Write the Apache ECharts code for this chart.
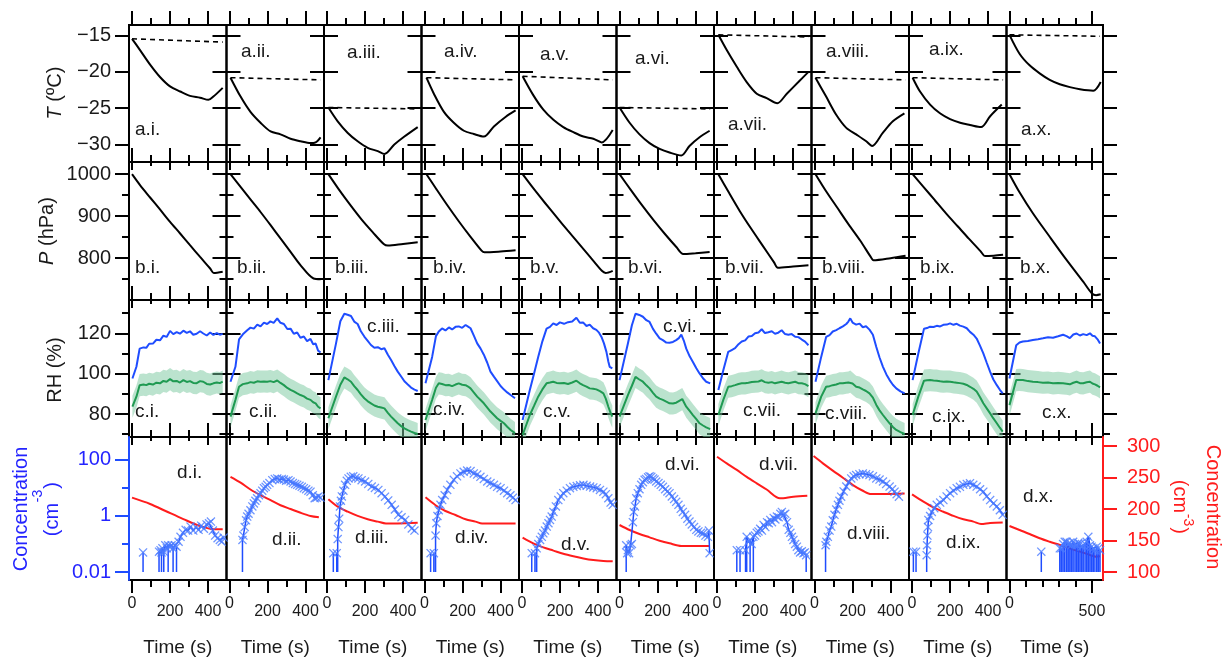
<!DOCTYPE html>
<html>
<head>
<meta charset="utf-8">
<script src="https://cdn.jsdelivr.net/npm/echarts@6/dist/echarts.min.js"></script>
<style>
html, body { margin: 0; padding: 0; background: #fff; }
#chart { width: 1225px; height: 658px; }
</style>
</head>
<body>
<div id="chart"></div>
<script>
const FONT = '"Liberation Sans", Arial, sans-serif';
const numerals = ['i', 'ii', 'iii', 'iv', 'v', 'vi', 'vii', 'viii', 'ix', 'x'];

// ticks
const xMajor = [0, 200, 400], xMinor = [100, 300];
const xMajorLast = [0, 500], xMinorLast = [100, 200, 300, 400];
const tTicks = [-30, -25, -20, -15];
const pTicks = [800, 900, 1000], pMinor = [750, 850, 950];
const rhTicks = [80, 100, 120], rhMinor = [70, 90, 110, 130];
const logTicks = [-2, 0, 2], logMinor = [-1, 1];
const logLabels = { '-2': '0.01', '0': '1', '2': '100' };
const redTicks = [100, 150, 200, 250, 300];

// a: temperature (solid) and start temperature (dashed), [s, degC]
const tempSolid = [
  [[0,-15.45],[42,-17.0],[95,-19.0],[147,-20.7],[200,-22.0],[253,-22.7],[305,-23.3],[358,-23.55],[402,-23.85],[428,-23.4],[477,-22.2]],
  [[5,-20.8],[58,-23.4],[110,-25.5],[163,-27.0],[216,-28.2],[268,-28.6],[321,-29.2],[374,-29.55],[426,-29.8],[453,-29.7],[479,-29.0]],
  [[7,-24.9],[56,-26.8],[109,-28.4],[161,-29.55],[214,-30.45],[267,-30.9],[302,-31.3],[354,-30.0],[407,-28.9],[477,-27.6]],
  [[10,-20.8],[49,-23.0],[102,-25.5],[154,-27.0],[207,-28.1],[259,-28.55],[312,-28.9],[365,-27.5],[426,-26.2],[479,-25.3]],
  [[3,-20.6],[59,-23.2],[112,-25.2],[165,-26.6],[217,-27.6],[270,-28.3],[323,-28.9],[375,-29.2],[419,-29.7],[477,-28.0]],
  [[0,-24.9],[53,-27.0],[105,-28.6],[158,-29.8],[211,-30.6],[263,-31.1],[325,-31.5],[368,-30.2],[421,-29.0],[474,-28.1]],
  [[7,-14.9],[51,-17.0],[104,-19.3],[156,-21.4],[209,-23.0],[261,-23.6],[317,-24.3],[367,-23.0],[428,-21.4],[481,-20.0]],
  [[5,-20.8],[61,-23.4],[114,-25.9],[167,-27.7],[219,-28.6],[272,-29.55],[303,-30.2],[359,-28.4],[412,-26.8],[473,-25.7]],
  [[3,-20.8],[42,-22.7],[95,-24.5],[147,-25.7],[200,-26.5],[253,-27.0],[305,-27.3],[363,-27.6],[411,-26.1],[472,-24.5]],
  [[0,-14.9],[61,-17.5],[122,-19.1],[183,-20.2],[244,-21.1],[305,-21.7],[366,-22.1],[427,-22.4],[508,-22.6],[553,-21.4]]
];
const tempDashed = [
  [[0,-15.45],[477,-15.9]], [[5,-20.8],[479,-21.1]], [[7,-24.9],[477,-25.1]], [[10,-20.8],[479,-21.1]],
  [[3,-20.6],[477,-21.1]], [[0,-24.9],[477,-25.1]], [[7,-14.9],[481,-15.2]], [[5,-20.8],[479,-21.1]],
  [[3,-20.8],[479,-21.1]], [[0,-14.9],[549,-15.1]]
];

// b: pressure [s, hPa]
const pressure = [
  [[0,1000],[42,974],[95,944.5],[147,916],[200,886.5],[253,858.8],[305,831],[358,803],[411,775.5],[430,765],[477,768]],
  [[5,1000],[58,970],[110,940],[163,910],[216,878.6],[268,847],[321,815],[374,783],[442,751.7],[479,750]],
  [[7,1000],[60,965],[120,928],[180,893],[240,862],[300,833],[320,830],[400,834],[477,838]],
  [[10,1000],[60,966],[120,926],[180,888],[240,852],[300,818],[315,814],[400,816],[479,819]],
  [[3,1000],[60,966],[120,932],[180,899],[240,866],[300,834],[360,802],[420,770],[440,765],[477,770]],
  [[0,1000],[60,962],[120,925],[180,890],[240,857],[300,826],[335,810],[400,812],[474,815]],
  [[7,1000],[60,958],[120,912],[180,870],[240,830],[300,790],[320,777],[400,780],[481,783]],
  [[5,1000],[60,960],[120,920],[180,880],[240,842],[300,800],[310,795],[400,800],[479,806]],
  [[3,1000],[60,970],[120,938],[180,906],[240,876],[300,846],[360,817],[385,805],[430,806],[479,808]],
  [[0,1000],[61,957],[142,907],[244,851],[346,796],[447,744],[500,716],[525,712],[553,714]]
];

// c: relative humidity [s, %], blue trace and green trace with its band
const rhBlue = [
  [[2,97.6],[23,103.4],[40,112.4],[60,113],[75,112.8],[90,114.8],[110,114.9],[128,116.8],[147,116.5],[165,118.8],[182,118.2],[200,121.2],[217,119.6],[235,120.6],[252,119.8],[270,121.3],[288,120.2],[305,121],[322,119.3],[340,119.8],[358,121],[375,119.9],[393,118.9],[411,120.4],[428,119.2],[446,120.1],[462,119.3],[477,119.7]],
  [[5,96],[31,103.4],[50,117],[70,119.5],[93,121.5],[110,122.8],[128,122.3],[146,124.3],[163,123.4],[181,125.3],[198,124.6],[215,125.9],[232,125.2],[251,127.4],[268,125.2],[286,124.6],[304,122.1],[321,122.3],[338,119.8],[356,120.4],[373,117.8],[391,118.4],[408,116.1],[426,117.2],[440,114.6],[453,114.9],[466,111.4],[479,110.5]],
  [[7,96.8],[47,114.9],[70,126],[91,129.7],[108,129.2],[126,128.6],[143,125.8],[161,124.6],[178,121],[196,118.4],[213,116.4],[231,114.2],[249,112.8],[267,113.1],[285,112.1],[302,112.6],[320,109.4],[337,106.8],[355,103.7],[372,101],[390,98.6],[407,96.2],[425,94.6],[442,93.1],[460,92.1],[477,91.4]],
  [[5,95.2],[40,108.3],[60,118.6],[75,120.9],[92,122.4],[110,121.4],[128,122.9],[145,121.9],[163,123.2],[180,123.4],[198,122.7],[216,124.1],[229,123.3],[242,122.5],[260,118.7],[277,115],[295,112.4],[312,109.4],[330,105.4],[347,101],[365,98.5],[382,96.3],[400,93.9],[418,92.1],[435,90.7],[453,89.4],[476,87.8]],
  [[3,77],[41,91.9],[63,100],[85,108.3],[107,116],[129,122.3],[147,123.2],[164,124.9],[182,124.1],[199,125.4],[221,124.7],[242,125.5],[264,125.8],[286,127.7],[304,125.2],[321,125.4],[339,123.6],[356,124.3],[374,122.5],[391,121.7],[405,120.3],[418,118.2],[431,115],[444,110.8],[454,106],[461,103.4],[475,102.6]],
  [[0,96.8],[44,114.9],[65,124],[84,129.7],[104,129.1],[123,128.2],[141,126.5],[158,125.6],[176,122.2],[193,119.8],[211,117.5],[228,116.6],[246,115.4],[263,115.3],[281,115.7],[298,116.6],[312,117.6],[325,119.3],[338,116.4],[351,112.4],[369,108.6],[386,105.8],[404,102.7],[421,100.1],[439,97.7],[456,96],[477,95.2]],
  [[7,91.9],[33,101.7],[59,110.8],[77,111.7],[95,112.6],[113,114.6],[130,115.9],[148,116.5],[165,118.4],[183,118.6],[200,120],[218,120.4],[235,122],[252,120.1],[270,120.5],[288,121],[305,119.8],[322,120.3],[340,121.5],[358,119.6],[375,119.3],[393,119.6],[411,118.3],[428,118.1],[446,116.9],[463,115.9],[481,114.1]],
  [[5,96],[35,108.3],[61,118.2],[79,119.1],[96,120.9],[114,121.6],[131,122.5],[149,123.4],[167,124.6],[178,125.8],[188,127.4],[200,125.3],[219,124.3],[237,124.8],[254,123],[271,123.5],[289,121.8],[307,119.3],[325,113.2],[342,108],[360,103.4],[378,99.6],[395,96.8],[412,94.5],[430,92.7],[452,91.2],[474,90.2]],
  [[3,96.8],[33,110],[63,122.3],[79,122.6],[95,123.3],[113,123.1],[130,123.7],[148,123.4],[165,124.2],[183,124.3],[200,124.9],[218,124.2],[235,124.7],[252,123.8],[270,123.3],[288,122.5],[305,120.7],[323,119.3],[340,117.4],[358,113.8],[375,110],[393,105.4],[411,100.9],[428,97.1],[446,94.3],[462,92],[477,90.2]],
  [[0,97.6],[41,114.1],[61,115.4],[81,115.9],[112,116.2],[142,116.7],[173,117.1],[203,117.5],[234,118],[264,117.8],[295,118.5],[325,119.3],[346,118.6],[366,117.6],[387,119.4],[407,119.9],[427,118.9],[447,119.6],[468,119.1],[488,120],[503,118.8],[518,118.5],[534,117],[549,114.9]]
];
const rhGreen = [
  [[2,83.6],[23,88.6],[40,94.3],[60,94.6],[75,94.3],[90,95],[110,94.6],[128,95.5],[147,95.2],[165,96.4],[182,96],[200,97.3],[217,96.2],[235,96.4],[252,95.6],[270,96.8],[288,95.9],[305,96.3],[322,95.4],[340,95.3],[358,96.3],[375,96],[393,94.9],[411,94.6],[428,95.2],[446,95.6],[462,95.3],[477,96]],
  [[5,78.7],[31,87],[50,93.5],[70,94.8],[93,95.2],[110,95.8],[128,95.5],[146,96.2],[163,96],[181,96.1],[198,96],[215,96.3],[232,95.8],[251,96.6],[268,95.4],[286,94.3],[304,92.9],[321,92],[338,91.2],[356,90.2],[373,89.4],[391,88.7],[408,87.6],[426,87],[440,85.8],[453,85.3],[466,83.6],[479,82.8]],
  [[7,77.9],[47,88.6],[70,94.5],[91,98.1],[108,97.2],[126,96],[143,93.8],[161,91.9],[178,89.7],[196,87.8],[213,86.4],[231,85.3],[249,84.2],[267,83.6],[285,83.2],[302,82.8],[320,80.6],[337,78.7],[355,77],[372,75.4],[390,74],[407,72.9],[425,72],[442,71.3],[460,70.6],[477,70.1]],
  [[5,77],[40,87],[60,93],[75,95.2],[92,94.9],[110,94.3],[128,94.4],[145,93.8],[163,94.6],[180,95.2],[198,94.5],[216,94.3],[229,93.6],[242,92.7],[260,90.6],[277,88.6],[295,86.9],[312,85.3],[330,83.2],[347,81.2],[365,79.5],[382,77.9],[400,76.6],[418,75.4],[435,73.7],[453,72.1],[476,70.5]],
  [[3,69.6],[41,79.5],[63,84],[85,88.6],[107,92.2],[129,95.2],[147,95.6],[164,96],[182,95.4],[199,95.2],[221,95.4],[242,94.9],[264,95.6],[286,96.5],[304,95.2],[321,94.3],[339,93.6],[356,92.7],[374,92.5],[391,92.2],[410,91.3],[428,90.2],[441,87.5],[454,83.6],[465,80.8],[475,78.7]],
  [[0,78.7],[44,89.4],[65,94],[84,98.4],[104,97.1],[123,96],[141,94.2],[158,92.7],[176,90.5],[193,88.6],[211,87.6],[228,87],[246,86.1],[263,85.3],[281,85.2],[298,85.6],[312,86.4],[330,87.4],[340,85.6],[351,83.6],[369,81.5],[386,79.5],[404,77.4],[421,75.4],[439,74.3],[456,73.4],[477,72.5]],
  [[7,79.5],[33,87],[59,93.5],[77,93.8],[95,94.3],[113,94.9],[130,95.2],[148,95.2],[165,95.5],[183,95.9],[200,96],[218,96.1],[235,96.7],[252,95.8],[270,95.5],[288,95.8],[305,95.2],[322,95.6],[340,96],[358,95.5],[375,95.2],[393,95.6],[411,96],[428,95.3],[446,95.2],[463,94.8],[481,93.8]],
  [[5,80.3],[35,88.6],[61,93.5],[79,93.8],[96,94.3],[114,94.6],[131,95.2],[149,95.2],[167,95.5],[178,95.6],[188,96],[200,95.1],[219,93.5],[237,93.1],[254,92.2],[271,91.4],[289,90.2],[307,88.1],[325,84.5],[342,81.8],[360,79.5],[378,77.3],[395,75.4],[412,73.6],[430,72.1],[452,71],[474,70.1]],
  [[3,79.5],[33,88.6],[63,96.5],[79,96.7],[95,96.8],[113,96.6],[130,96.5],[148,96.2],[165,96],[183,96.1],[200,96],[218,95.7],[235,95.5],[252,95.3],[270,95],[288,94.4],[305,93.5],[323,92.5],[340,91.1],[358,88.3],[375,85.3],[393,82.8],[411,80.3],[428,77.8],[446,75.4],[462,73.2],[477,71.3]],
  [[0,84.4],[41,96.8],[61,96.9],[81,96.8],[112,96.3],[142,96],[173,95.8],[203,95.5],[234,95.6],[264,95.2],[295,95.4],[325,95.2],[346,95],[366,94.7],[387,95.5],[407,96],[427,95.3],[447,95.2],[468,95.7],[488,96],[503,95.1],[518,94.7],[534,94],[549,93.2]]
];
const rhBand = 5.5;

// d: red concentration (right axis) [s, cm-3]
const concRed = [
  [[0,218],[95,208],[182,196],[270,184],[358,173],[428,168],[477,168]],
  [[5,251],[58,241.8],[110,231],[163,222],[216,214],[268,206],[321,200],[374,194],[426,189],[470,187]],
  [[7,215.4],[56,203.7],[109,195.7],[161,189],[214,183.7],[267,180],[310,177],[372,177],[477,178]],
  [[5,218.5],[58,206],[110,196.8],[163,190.5],[216,183.7],[268,180],[303,177],[365,177],[479,177]],
  [[3,154.5],[59,145.5],[112,139],[165,134],[217,129],[270,125],[323,121.5],[375,119],[428,117.5],[477,117]],
  [[0,174.6],[53,166.7],[105,160.3],[158,155],[211,149.7],[263,145.5],[325,141.3],[386,141.3],[474,141.3]],
  [[0,283],[51,272.5],[104,262],[156,251],[209,240.8],[261,231],[331,217],[402,219.5],[475,221]],
  [[-5,284],[44,272.5],[96,261],[149,249.7],[202,238],[254,229],[298,223.8],[377,223.8],[474,224.5]],
  [[0,223.3],[60,211.6],[112,202.6],[165,195.7],[218,189],[270,183.7],[323,180],[363,176.2],[411,177.8],[477,178.6]],
  [[0,173],[61,166.7],[122,160.3],[183,153.5],[244,148],[305,143],[366,137.7],[427,132.3],[488,127],[524,124.3],[549,125]]
];
// d: blue concentration (log axis) [s, cm-3, 1 = lower bar reaches zero]; null = gap
const concBlue = [
  [[58,0.05,1],null,[142,0.053,1],[150,0.06],[155,0.05,1],[160,0.07],[167,0.053,1],[175,0.09],[183,0.07],[190,0.09,1],[200,0.08],[208,0.09],[216,0.07,1],[225,0.09],[234,0.08,1],[245,0.12],[255,0.18],[268,0.25],[282,0.32],[295,0.3],[308,0.42],[322,0.3],[336,0.4],[350,0.32],[364,0.45],[378,0.35],[392,0.5],[405,0.55],[415,0.63],[425,0.3],[437,0.2],[450,0.16],[462,0.14],[472,0.12],[482,0.17]],
  [[68,0.14,1],[73,0.2],[80,0.4],[87,0.7],[93,0.95],[100,1.2],[110,1.6],[120,2.2],[128,2.8],[136,3.5],[145,4.3],[155,5.5],[163,6.5],[172,8],[181,9.8],[190,11],[198,13],[210,15],[225,19],[238,21],[251,22],[262,20],[275,21],[286,20],[298,18],[310,19],[321,17],[333,15],[345,14],[356,13],[368,12],[380,11],[391,9.8],[403,9],[415,8],[426,7.4],[438,5.5],[448,4.3],[458,4.5],[468,5],[479,4.5]],
  [[33,0.047,1],null,[51,0.047,1],null,[56,0.15,1],[60,0.4],[64,0.8],[68,2.2],[73,3.5],[78,5],[86,8],[95,13],[104,18],[113,22],[125,25],[138,26],[150,23],[165,22],[182,19],[200,17],[217,14],[235,11.2],[252,10],[270,8.5],[287,6.5],[305,4.9],[322,3.6],[340,2.5],[357,1.7],[375,1.1],[392,0.9],[411,0.72],[428,0.5],[446,0.36],[460,0.3]],
  [[32,0.047,1],null,[49,0.047,1],null,[58,0.2,1],[62,0.55],[68,1],[75,1.6],[84,2.5],[93,3.7],[106,5.5],[119,8.5],[136,13],[154,19.5],[171,26],[189,33],[206,38],[224,42],[242,40],[259,33],[277,30],[294,25],[312,21],[330,17],[347,15],[365,12.9],[382,11],[400,9.8],[418,8],[435,6.5],[452,5.5],[465,4.5],[479,3.7]],
  [[51,0.047,1],null,[68,0.047,1],null,[77,0.07,1],[86,0.1],[95,0.14],[104,0.18],[112,0.24],[121,0.3],[130,0.42],[139,0.55],[147,0.72],[156,0.95],[165,1.4],[178,2.2],[191,3.7],[204,5],[217,6.5],[235,8],[252,9.8],[270,11],[288,11.7],[305,12.5],[323,12.9],[340,12],[358,11.2],[375,10.5],[393,9.8],[410,8.5],[428,7.4],[441,6],[454,4.3],[466,3],[477,2.5]],
  [[35,0.09,1],[40,0.047],[44,0.06],[50,0.047],[58,0.09],[65,0.1],[70,0.6],[75,1.4],[81,2.2],[88,4.3],[96,6.5],[105,9],[114,12.9],[123,16],[132,19.5],[140,21],[150,24],[158,26],[167,25],[176,22],[184,20],[193,17],[205,15],[217,13],[228,11],[240,9],[252,7.5],[263,6.5],[275,5],[287,4],[298,3.2],[310,2.5],[322,1.8],[333,1.4],[345,1.1],[357,0.8],[368,0.63],[380,0.5],[392,0.4],[404,0.32],[415,0.28],[428,0.25],[439,0.24],[452,0.2],[465,0.18],[470,0.3],[474,0.047]],
  [[104,0.06,1],null,[121,0.06,1],null,[150,0.06,1],[156,0.18,1],[165,0.12],[174,0.14,1],[182,0.1],[191,0.18,1],[200,0.2],[209,0.25],[218,0.28],[227,0.35],[236,0.3],[245,0.48],[254,0.4],[263,0.6],[272,0.55],[280,0.72],[289,0.6],[298,0.85],[307,0.75],[315,0.95],[324,0.9],[333,1.2],[341,1.4],[350,1.1],[359,1.2],[368,0.6],[377,0.32],[386,0.25],[394,0.18],[402,0.14],[411,0.1],[420,0.08],[428,0.06],[437,0.05],[446,0.055],[455,0.047],[462,0.05],[469,0.04,1]],
  [[58,0.09,1],[62,0.12],[70,0.18],[79,0.3],[88,0.42],[96,0.7],[105,1.1],[114,1.7],[123,2.5],[131,3.5],[140,4.9],[153,7.5],[167,11.2],[180,16],[193,22],[206,26],[219,29],[236,31],[254,33],[271,31],[289,29],[307,26],[325,22],[342,20],[360,17],[377,14],[395,11.2],[408,9],[421,7.4],[432,6],[444,4.9]],
  [[7,0.053,1],null,[21,0.053,1],null,[77,0.04,1],[79,0.09],[81,0.2],[84,0.4],[86,0.72],[95,1],[104,1.4],[117,1.9],[130,2.5],[148,3],[165,3.7],[182,5],[200,6.5],[218,8],[235,9.8],[252,11],[270,12.9],[288,14],[305,14.8],[322,13],[340,11.2],[358,9],[375,7.4],[393,5],[411,3.7],[428,2.8],[446,2.2],[462,1.6],[477,1.1]],
  [[193,0.053,1],null,[305,0.07,1],[315,0.07,1],[325,0.1,1],[335,0.12,1],[346,0.12,1],[356,0.1,1],[366,0.11,1],[376,0.09,1],[386,0.12,1],[397,0.1,1],[407,0.09,1],[417,0.11,1],[427,0.1,1],[437,0.08,1],[447,0.09,1],[458,0.1,1],[468,0.12,1],[478,0.18,1],[488,0.09,1],[498,0.08,1],[508,0.07,1],[518,0.06,1],[529,0.08,1],[539,0.07,1],[549,0.06,1]]
];

// ---- layout ----
const colLeft = [129, 226.5, 324, 421.5, 519, 616.5, 714, 811.5, 909, 1006.5];
const colWidth = [97.5, 97.5, 97.5, 97.5, 97.5, 97.5, 97.5, 97.5, 97.5, 96.5];
const rowTop = [25, 162, 300, 437];
const rowHeight = [137, 138, 137, 143];
const yRanges = [[-32.4, -13.55], [700.5, 1029], [68.6, 136.5]];
const yMajors = [tTicks, pTicks, rhTicks];
const yMinors = [[], pMinor, rhMinor];
const logRange = [-2.286, 2.82];
const redRange = [87.3, 314.3];

const BLUE = '#1f4dff', BLUE_MK = '#4a7bff', GREEN = '#1f9a52', RED = '#ff1c1c', TXT = '#1a1a1a';
const BAND = 'rgba(120,200,158,0.5)';
const XMARK = 'path://M0,1L1,0L5,4L9,0L10,1L6,5L10,9L9,10L5,6L1,10L0,9L4,5Z';

const grids = [], xAxes = [], yAxes = [], series = [], graphics = [];
const push = (arr, o) => { arr.push(o); return arr.length - 1; };
const minus = v => String(v).replace('-', '\u2212');

function axisDef(g, pos, range, o) {
  o = o || {};
  return {
    gridIndex: g, type: 'value', position: pos, min: range[0], max: range[1],
    axisLine: Object.assign({ show: false, onZero: false }, o.line || {}),
    splitLine: { show: false },
    axisTick: o.ticks ? { show: true, inside: false, customValues: o.ticks, length: o.len,
      lineStyle: { color: o.color || '#000', width: 2 } } : { show: false },
    axisLabel: o.label ? Object.assign({ show: true, fontFamily: FONT, color: TXT }, o.label) : { show: false }
  };
}

// uncertainty band of the green trace, drawn as one polygon through the axes
function bandSeries(xi, yi, pts) {
  return {
    type: 'custom', xAxisIndex: xi, yAxisIndex: yi, silent: true, z: 1, clip: true,
    data: pts,
    renderItem: (params, api) => {
      if (params.dataIndex !== 0) return null;
      const upper = pts.map(p => api.coord([p[0], p[1] + rhBand]));
      const lower = pts.map(p => api.coord([p[0], p[1] - rhBand])).reverse();
      return { type: 'polygon', shape: { points: upper.concat(lower) }, style: { fill: BAND } };
    }
  };
}

for (let r = 0; r < 4; r++) {
  for (let c = 0; c < 10; c++) {
    const g = push(grids, {
      left: colLeft[c], top: rowTop[r], width: colWidth[c], height: rowHeight[r],
      show: true, borderColor: '#000', borderWidth: 2, backgroundColor: 'transparent',
      containLabel: false, outerBoundsMode: 'none'
    });
    const last = c === 9;
    const xr = last ? [-18, 567] : [-16, 497];
    const maj = last ? xMajorLast : xMajor, mnr = last ? xMinorLast : xMinor;
    const bottomRow = r === 3;
    const xData = push(xAxes, axisDef(g, 'bottom', xr, { ticks: maj, len: bottomRow ? 13 : 8,
      label: bottomRow ? { customValues: maj.filter(v => v > 0), margin: 24, fontSize: 16 } : null }));
    push(xAxes, axisDef(g, 'bottom', xr, { ticks: mnr, len: bottomRow ? 7 : 4,
      label: bottomRow ? { customValues: [0], margin: 16, fontSize: 16 } : null }));
    push(xAxes, axisDef(g, 'top', xr, { ticks: maj, len: 14 }));
    push(xAxes, axisDef(g, 'top', xr, { ticks: mnr, len: 7 }));

    if (r < 3) {
      const yr = yRanges[r];
      const yData = push(yAxes, axisDef(g, 'left', yr, { ticks: yMajors[r], len: 14,
        label: c === 0 ? { customValues: yMajors[r], fontSize: 20, margin: 18, formatter: minus } : null }));
      push(yAxes, axisDef(g, 'right', yr, { ticks: yMajors[r], len: 14 }));
      if (yMinors[r].length) {
        push(yAxes, axisDef(g, 'left', yr, { ticks: yMinors[r], len: 7 }));
        push(yAxes, axisDef(g, 'right', yr, { ticks: yMinors[r], len: 7 }));
      }
      const base = { type: 'line', xAxisIndex: xData, yAxisIndex: yData, symbol: 'none', showSymbol: false, silent: true };
      if (r === 0) {
        series.push(Object.assign({}, base, { data: tempDashed[c], lineStyle: { color: '#000', width: 1.6, type: [5, 4] }, z: 2 }));
        series.push(Object.assign({}, base, { data: tempSolid[c], smooth: 0.3, lineStyle: { color: '#000', width: 2 }, z: 3 }));
      } else if (r === 1) {
        series.push(Object.assign({}, base, { data: pressure[c], smooth: 0.3, lineStyle: { color: '#000', width: 2 }, z: 3 }));
      } else {
        series.push(bandSeries(xData, yData, rhGreen[c]));
        series.push(Object.assign({}, base, { data: rhGreen[c], lineStyle: { color: GREEN, width: 2 }, z: 3 }));
        series.push(Object.assign({}, base, { data: rhBlue[c], lineStyle: { color: BLUE, width: 2 }, z: 3 }));
      }
    } else {
      const yLog = push(yAxes, { gridIndex: g, type: 'log', logBase: 10, show: false,
        min: Math.pow(10, logRange[0]), max: Math.pow(10, logRange[1]) });
      const yRed = push(yAxes, { gridIndex: g, type: 'value', show: false, min: redRange[0], max: redRange[1] });
      if (c === 0) {
        push(yAxes, axisDef(g, 'left', logRange, { ticks: logTicks, len: 14, color: BLUE,
          line: { show: true, lineStyle: { color: BLUE, width: 2 } },
          label: { customValues: logTicks, fontSize: 20, margin: 18, color: '#2424ff', formatter: v => logLabels[String(v)] } }));
        push(yAxes, axisDef(g, 'left', logRange, { ticks: logMinor, len: 7, color: BLUE }));
      }
      if (last) {
        push(yAxes, axisDef(g, 'right', redRange, { ticks: redTicks, len: 14, color: RED,
          line: { show: true, lineStyle: { color: RED, width: 2 } },
          label: { customValues: redTicks, fontSize: 20, margin: 24, color: RED } }));
      }
      const base = { type: 'line', xAxisIndex: xData, symbol: 'none', showSymbol: false, silent: true };
      series.push(Object.assign({}, base, { yAxisIndex: yRed, data: concRed[c], smooth: 0.3, lineStyle: { color: RED, width: 2 }, z: 2 }));
      const pts = concBlue[c];
      series.push(Object.assign({}, base, { yAxisIndex: yLog, connectNulls: false,
        data: pts.map(p => p ? [p[0], p[1]] : ['-', '-']), lineStyle: { color: BLUE, width: 1.5 }, z: 3 }));
      const stems = [];
      pts.forEach(p => { if (p && p[2]) stems.push([p[0], 0.01], [p[0], p[1]], ['-', '-']); });
      series.push(Object.assign({}, base, { yAxisIndex: yLog, connectNulls: false, data: stems,
        lineStyle: { color: BLUE, width: 1.5 }, z: 3 }));
      series.push({ type: 'scatter', xAxisIndex: xData, yAxisIndex: yLog, silent: true, symbol: XMARK, symbolSize: 9,
        itemStyle: { color: BLUE_MK }, data: pts.filter(p => p).map(p => [p[0], p[1]]), z: 4 });
    }
  }
}

// panel tags
const tagPos = [
  [[135,130],[241,52],[347,53],[444,52],[540,55],[635,59],[728,125],[826,52],[929,50],[1021,130]],
  [[135,268],[237,268],[335,268],[433,268],[530,268],[628,268],[725,268],[822,268],[920,268],[1020,268]],
  [[135,412],[249,412],[367,327],[433,410],[543,412],[663,327],[743,411],[825,414],[932,417],[1042,413]],
  [[177,473],[272,540],[355,538],[455,538],[561,545],[665,465],[759,465],[847,534],[946,543],[1023,497]]
];
const txt = (x, y, text, extra, rot) => graphics.push({ type: 'text', x, y, rotation: rot || 0, silent: true, z: 100,
  style: Object.assign({ text, fontFamily: FONT, fontSize: 19, fill: TXT, align: 'left', verticalAlign: 'middle' }, extra || {}) });
tagPos.forEach((row, r) => row.forEach((p, c) => txt(p[0], p[1], 'abcd'[r] + '.' + numerals[c] + '.')));

for (let c = 0; c < 10; c++) txt(colLeft[c] + colWidth[c] / 2, 648, 'Time (s)', { align: 'center' });

const up = Math.PI / 2, down = -Math.PI / 2;
const nameRich = { it: { fontStyle: 'italic', fontSize: 20, fontFamily: FONT, fill: TXT }, n: { fontSize: 20, fontFamily: FONT, fill: TXT } };
txt(55, 93, '{it|T}{n| (\u00baC)}', { align: 'center', fontSize: 20, rich: nameRich }, up);
txt(47, 231, '{it|P}{n| (hPa)}', { align: 'center', fontSize: 20, rich: nameRich }, up);
txt(55, 370, 'RH (%)', { align: 'center', fontSize: 20 }, up);

const blueTxt = { align: 'center', fontSize: 20, fill: '#2424ff' };
txt(21, 509, 'Concentration', blueTxt, up);
txt(52, 519.5, '(cm', blueTxt, up);
txt(38, 496, '-3', Object.assign({}, blueTxt, { fontSize: 14 }), up);
txt(52, 485.5, ')', blueTxt, up);

const redTxt = { align: 'center', fontSize: 20, fill: RED };
txt(1213, 507, 'Concentration', redTxt, down);
txt(1180, 496.5, '(cm', redTxt, down);
txt(1188, 520, '-3', Object.assign({}, redTxt, { fontSize: 14 }), down);
txt(1180, 530.5, ')', redTxt, down);

const chart = echarts.init(document.getElementById('chart'));
chart.setOption({
  animation: false,
  backgroundColor: '#fff',
  textStyle: { fontFamily: FONT },
  grid: grids,
  xAxis: xAxes,
  yAxis: yAxes,
  series: series,
  graphic: graphics
});
</script>
</body>
</html>
